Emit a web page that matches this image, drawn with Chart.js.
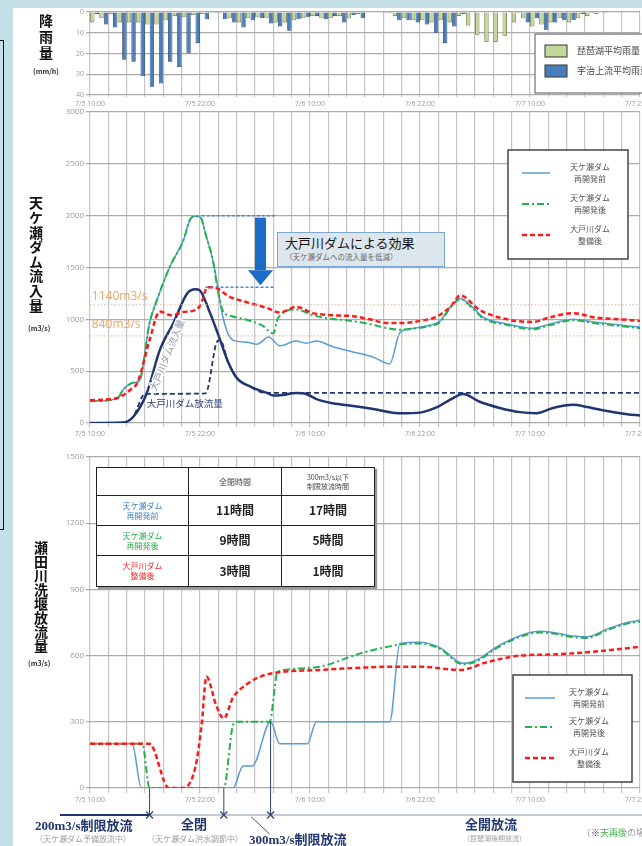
<!DOCTYPE html>
<html lang="ja">
<head>
<meta charset="utf-8">
<script src="https://cdn.jsdelivr.net/npm/chart.js@4.4.1/dist/chart.umd.min.js"></script>
<style>
  html,body{margin:0;padding:0;}
  body{width:642px;height:846px;position:relative;overflow:hidden;background:#c4e0e6;font-family:"Noto Sans CJK JP","Noto Sans",sans-serif;}
  #panel{position:absolute;left:13px;top:8px;width:629px;height:838px;background:#fff;}
  #bracket{position:absolute;left:-10px;top:40px;width:14px;height:490px;border:1.5px solid #111;box-sizing:border-box;}
  canvas{position:absolute;left:0;}
  .ov{position:absolute;z-index:5;white-space:nowrap;}
  .vt{position:absolute;z-index:5;writing-mode:vertical-rl;text-orientation:upright;font-weight:700;color:#111;line-height:1;}
  .unit{position:absolute;z-index:5;font-size:7px;font-weight:700;color:#333;}
  .big{font-family:"Liberation Serif","Noto Sans CJK JP",serif;font-weight:700;font-size:13px;color:#1f3670;line-height:13px;}
  .sub{font-size:8px;color:#a0a0a0;line-height:9px;}
  #effect{position:absolute;z-index:5;left:277px;top:232px;width:168px;height:35px;box-sizing:border-box;background:#dde6ed;border:1.5px solid #7aa7d4;padding:2px 0 0 7px;}
  #effect .t1{font-size:13px;color:#111;line-height:16px;}
  #effect .t2{font-size:7.5px;color:#666;line-height:11px;}
  #tbl{position:absolute;z-index:5;left:96px;top:467px;width:278px;height:119px;border-collapse:collapse;background:#fff;box-shadow:2px 2px 1px #999;table-layout:fixed;}
  #tbl td{border:1.5px solid #222;text-align:center;padding:0;line-height:1.2;}
  #tbl .h{font-size:8px;color:#444;}
  #tbl .s{font-size:7px;}
  #tbl .v{font-size:12px;font-weight:700;color:#222;}
  #tbl .l{font-size:8px;}
</style>
</head>
<body>
<div id="panel"></div>
<div id="bracket"></div>

<canvas id="rain" width="642" height="110" style="top:0"></canvas>
<canvas id="inflow" width="642" height="342" style="top:100px"></canvas>
<canvas id="outflow" width="642" height="401" style="top:445px"></canvas>

<div class="vt" style="left:39px;top:14px;font-size:14px;letter-spacing:2px;">降雨量</div>
<div class="unit" style="left:33px;top:66px;">(mm/h)</div>
<div class="vt" style="left:29px;top:196px;font-size:14px;letter-spacing:0.6px;">天ケ瀬ダム流入量</div>
<div class="unit" style="left:28px;top:323px;">(m3/s)</div>
<div class="vt" style="left:34px;top:541px;font-size:14px;letter-spacing:0px;">瀬田川洗堰放流量</div>
<div class="unit" style="left:28px;top:658px;">(m3/s)</div>

<div id="effect"><div class="t1">大戸川ダムによる効果</div><div class="t2">（天ケ瀬ダムへの流入量を低減）</div></div>

<table id="tbl">
  <colgroup><col style="width:92px"><col style="width:93px"><col style="width:93px"></colgroup>
  <tr style="height:28px"><td></td><td class="h">全閉時間</td><td class="h s">300m3/s以下<br>制限放流時間</td></tr>
  <tr style="height:30px"><td class="l" style="color:#3d85c6">天ケ瀬ダム<br>再開発前</td><td class="v">11時間</td><td class="v">17時間</td></tr>
  <tr style="height:30px"><td class="l" style="color:#2cb050">天ケ瀬ダム<br>再開発後</td><td class="v">9時間</td><td class="v">5時間</td></tr>
  <tr style="height:31px"><td class="l" style="color:#f03030">大戸川ダム<br>整備後</td><td class="v">3時間</td><td class="v">1時間</td></tr>
</table>

<div class="ov big" style="left:35px;top:819px;">200m3/s制限放流</div>
<div class="ov sub" style="left:35px;top:834px;">（天ケ瀬ダム予備放流中）</div>
<div class="ov big" style="left:181px;top:818px;">全閉</div>
<div class="ov sub" style="left:147px;top:834px;">（天ケ瀬ダム洪水調節中）</div>
<div class="ov big" style="left:249px;top:833px;">300m3/s制限放流</div>
<div class="ov big" style="left:465px;top:818px;">全開放流</div>
<div class="ov sub" style="left:463px;top:834px;font-size:7px;">（琵琶湖後期放流）</div>
<div class="ov" style="left:582px;top:828px;font-size:9px;color:#999;line-height:10px;">〔<span style="color:#333">※</span><span style="color:#3cb043">天再後</span>の場合</div>

<script>
// time axis: hours from 7/5 10:00
const timeLabels = ['7/5 10:00', '7/5 22:00', '7/6 10:00', '7/6 22:00', '7/7 10:00', '7/7 22:00'];

// hourly rainfall (mm/h), one value per hour from 7/5 10:00
const rainBiwa = [5, 3, 1, 5, 5, 5, 6, 6, 4, 2, 2.5, 1.5, 1, 0.5, 0.5, 3, 5, 3, 2.5, 3,
                  5, 5, 4, 3, 2, 3, 3, 2, 3, 1, 0.3, 0.3, 0.5, 2, 3, 4, 4, 5, 4, 5,
                  2, 6.5, 11, 14.5, 14.5, 11.5, 5, 3, 7, 6, 5, 3, 5, 3, 2, 1, 0.5, 0, 0, 0];
const rainUji  = [1, 6, 7.5, 23, 24, 31, 36, 34.5, 24, 26.5, 20, 15, 3.5, 0.5, 3.5, 5, 7.5, 4, 3, 5.5,
                  7, 9, 3.5, 2.5, 2, 3.5, 2, 5, 1.5, 3, 0.3, 0, 0.5, 4, 4, 5, 6, 10, 15, 7,
                  1, 0, 0, 0, 0, 0, 0.5, 5, 3, 8.5, 5, 4, 4, 1, 0.5, 0, 0, 0, 0, 0];

// 天ケ瀬ダム流入量 (m3/s): [hour, value]
const inflowBefore = [[0,210],[3,235],[3.6,320],[4.8,390],[5.4,410],[6.5,965],[7.3,1185],[8.7,1505],[10.2,1765],
  [10.9,1960],[11.5,1995],[12,1990],[12.7,1795],[13.4,1570],[14,1280],[14.5,1020],[15.6,800],[17.1,780],[18.2,760],
  [19.5,830],[20.7,745],[22.5,790],[23.6,770],[24.7,790],[26.5,735],[28.7,685],[30.9,635],[32.7,570],[33.8,870],
  [35.3,915],[36.7,935],[38.2,985],[39.3,1120],[40.4,1200],[41.8,1110],[42.9,1020],[45.5,955],[48.3,915],
  [50.2,955],[52.7,1000],[54.9,975],[57.8,945],[60,925]];
const inflowAfter = [[0,210],[3,235],[3.6,320],[4.8,390],[5.4,410],[6.5,965],[7.3,1185],[8.7,1505],[10.2,1765],
  [10.9,1960],[11.5,1995],[12,1990],[12.7,1795],[13.4,1570],[14,1250],[14.5,1080],[15.5,1030],[17.3,990],
  [18.8,940],[20,865],[20.5,1010],[22.5,1095],[24.3,1040],[25.8,1010],[28,990],[30.5,955],[32.4,915],[33.8,900],
  [35.3,910],[36.7,930],[38.2,975],[39.3,1110],[40.4,1195],[41.8,1100],[42.9,1010],[45.5,945],[48.3,905],
  [50.2,945],[52.7,990],[54.9,965],[57.8,935],[60,915]];
const inflowDaido = [[0,220],[2.9,240],[4.4,320],[5.2,395],[6.5,800],[7.6,1075],[8.9,1040],[10.2,1070],[11.7,1100],
  [12.2,1170],[12.8,1310],[13.4,1310],[15.3,1215],[17.1,1165],[19.3,1110],[20.7,1065],[22.5,1120],[24.3,1060],
  [26.5,1040],[28.7,1030],[30.5,1000],[32.4,965],[34.1,965],[36.3,990],[37.8,1025],[39.3,1120],[40.4,1230],
  [42.5,1090],[45.5,1000],[48.3,975],[50.2,1020],[52.7,1060],[54.9,1020],[57.8,1000],[60,985]];
// 大戸川ダム流入量 / 放流量
const daidoIn = [[0,0],[3.6,5],[4.7,58],[6.2,290],[7.6,700],[9.1,965],[10.6,1250],[11.5,1290],[11.9,1285],[13.1,1060],
  [14.2,800],[15.1,580],[16,435],[17.5,350],[19.3,290],[20,265],[21,270],[22.5,290],[23.6,280],[24.7,230],[26.5,190],
  [28.7,165],[30.9,135],[33,100],[34.6,95],[36.3,105],[37.8,150],[39.3,225],[40.7,280],[42.5,205],[44.7,145],
  [46.9,105],[48.7,95],[50.5,145],[52.7,175],[54.2,155],[56.4,115],[58.6,85],[60,72]];
const daidoOut = [[0,0],[3.6,5],[4.7,58],[6,280],[12.6,285],[13.9,790],[14.2,800],[15.1,580],[16,435],[17.5,350],
  [19,290],[60,290]];

// 瀬田川洗堰放流量 (m3/s)
const setaBefore = [[0,200],[4.6,200],[5.6,0],[15.6,0],[16.7,100],[17.7,100],[19.7,300],[20.7,200],[23.7,200],
  [24.7,300],[32.7,300],[33.8,655],[36,660],[38.2,635],[40.7,565],[42.2,580],[44.4,640],[46.9,690],[49.1,710],
  [50.5,705],[52.4,690],[54.2,685],[56.4,720],[58.6,750],[60,760]];
const setaAfter = [[0,200],[5.7,200],[6.5,0],[14.6,0],[15.6,285],[16,300],[19.6,300],[20.4,520],[20.7,530],
  [25.1,550],[29.5,610],[33.8,650],[36,655],[38.2,630],[40.7,560],[42.2,575],[44.4,635],[46.9,685],[49.1,705],
  [50.5,700],[52.4,685],[54.2,680],[56.4,715],[58.6,745],[60,755]];
const setaDaido = [[0,200],[6.5,200],[8.6,0],[10.1,0],[11.5,95],[12.2,295],[12.7,505],[13.8,370],[14.6,315],
  [15.6,410],[17.1,470],[18.9,510],[20.7,525],[25.1,535],[29.5,545],[33.8,550],[36,550],[40.4,535],[43.3,570],
  [46.9,600],[50.5,605],[54.2,615],[57.8,630],[60,640]];

// annotations
const refLevels = [1140, 840];
const effectTop = 2000, effectBottom = 1310, effectFrom = [12.2, 12.6], effectTo = 20.2, arrowAt = 18.6;
const gateMarks = [[6.5, 0], [14.6, 0], [19.7, 300]];   // 200m3/s → 全閉 → 300m3/s → 全開

Chart.defaults.font.family = "'Open Sans','Noto Sans CJK JP',sans-serif";
const JP = "'Noto Sans CJK JP'";

function xAxis(h, tick){
  return { type:'linear', min:0, max:60, offset:false,
    afterFit(s){ s.height = h; s.paddingLeft = 0; s.paddingRight = 0; },
    ticks:{ stepSize:2, autoSkip:false, maxRotation:0, minRotation:0, padding:3, color:'#9a9a9a', font:{size:7},
      callback: v => v % 12 === 0 ? timeLabels[v / 12] : '' },
    grid:{ color:'#c4c4c4', lineWidth:1.2, tickLength:tick, offset:false }, border:{display:false} };
}
function yAxis(max, step, rev, fs){
  return { min:0, max, reverse:!!rev,
    afterFit(s){ s.width = 90; s.paddingTop = 0; s.paddingBottom = 0; },
    ticks:{ stepSize:step, padding:2, color:'#9a9a9a', font:{size:fs}, callback: v => String(v) },
    grid:{ color:'#ababab', lineWidth:1.2, tickLength:4 }, border:{display:false} };
}
function line(label, pts, color, width, dash){
  return { type:'line', label, data: pts.map(p => ({x:p[0], y:p[1]})), borderColor:color, borderWidth:width,
    borderDash: dash || [], pointRadius:0, fill:false, cubicInterpolationMode:'monotone', borderCapStyle:'butt' };
}
const baseOpts = { responsive:false, animation:false, devicePixelRatio:1,
  layout:{ padding:{ top:12, right:2, left:0, bottom:0 } },
  plugins:{ legend:{display:false}, tooltip:{enabled:false} } };

const C_BEFORE = '#5b9bd5', C_AFTER = '#22b14c', C_DAIDO = '#ff1a1a', C_NAVY = '#1f3670';
const D_AFTER = [7,3,2,3], D_DAIDO = [5,3];

function drawLineLegend(ctx, L, oy){
  ctx.save();
  ctx.fillStyle = '#fff'; ctx.strokeStyle = '#444'; ctx.lineWidth = 1.5;
  ctx.fillRect(L.x, L.y - oy, L.w, L.h); ctx.strokeRect(L.x, L.y - oy, L.w, L.h);
  L.rows.forEach(r => {
    ctx.strokeStyle = r.color; ctx.lineWidth = r.width; ctx.setLineDash(r.dash);
    ctx.beginPath(); ctx.moveTo(L.x1, r.y - oy); ctx.lineTo(L.x2, r.y - oy); ctx.stroke();
    ctx.setLineDash([]);
    ctx.fillStyle = '#555'; ctx.font = '8px ' + JP; ctx.textAlign = 'center'; ctx.textBaseline = 'middle';
    ctx.fillText(r.text[0], L.tx, r.y - oy - 6);
    ctx.fillText(r.text[1], L.tx, r.y - oy + 6);
  });
  ctx.restore();
}
const legendRows = (ys) => [
  { y:ys[0], color:C_BEFORE, width:1.5, dash:[], text:['天ケ瀬ダム','再開発前'] },
  { y:ys[1], color:C_AFTER, width:2, dash:D_AFTER, text:['天ケ瀬ダム','再開発後'] },
  { y:ys[2], color:C_DAIDO, width:2.5, dash:D_DAIDO, text:['大戸川ダム','整備後'] } ];

// ---- 降雨量 ----
const rainLegend = { id:'rainLegend', afterDraw(c){
  const ctx = c.ctx; ctx.save();
  ctx.fillStyle = '#fff'; ctx.strokeStyle = '#555'; ctx.lineWidth = 1;
  ctx.fillRect(535, 34, 130, 59); ctx.strokeRect(535, 34, 130, 59);
  [['#c3d69b','琵琶湖平均雨量',45],['#4a7ebb','宇治上流平均雨量',65]].forEach(([col, t, y]) => {
    ctx.fillStyle = col; ctx.fillRect(545, y, 22, 12); ctx.strokeStyle = '#333'; ctx.strokeRect(545, y, 22, 12);
    ctx.fillStyle = '#444'; ctx.font = '9px ' + JP; ctx.textBaseline = 'middle'; ctx.fillText(t, 577, y + 6);
  });
  ctx.restore();
}};
new Chart(document.getElementById('rain'), {
  type:'bar',
  data:{ datasets:[
    { label:'琵琶湖平均雨量', data: rainBiwa.map((v, i) => ({x:i + 0.5, y:v})), backgroundColor:'#c3d69b',
      borderColor:'#5a6433', borderWidth:0.8, barPercentage:0.95, categoryPercentage:1 },
    { label:'宇治上流平均雨量', data: rainUji.map((v, i) => ({x:i + 0.5, y:v})), backgroundColor:'#4a7ebb',
      borderColor:'#1d3b66', borderWidth:0.8, barPercentage:0.95, categoryPercentage:1 } ]},
  options:{ ...baseOpts, scales:{ x: xAxis(15, 2), y: yAxis(40, 10, true, 7) } },
  plugins:[rainLegend]
});

// ---- 天ケ瀬ダム流入量 ----
const inflowDeco = { id:'inflowDeco', afterDraw(c){
  const { ctx, chartArea:a, scales:{x, y} } = c, oy = 100;
  ctx.save();
  ctx.setLineDash([1.5,2]); ctx.strokeStyle = '#d9b39a'; ctx.lineWidth = 1;
  refLevels.forEach(v => { const py = y.getPixelForValue(v); ctx.beginPath(); ctx.moveTo(a.left, py); ctx.lineTo(a.right, py); ctx.stroke(); });
  ctx.setLineDash([]);
  ctx.fillStyle = '#f2a35e'; ctx.font = "12px 'Open Sans'"; ctx.textAlign = 'left'; ctx.textBaseline = 'alphabetic';
  ctx.fillText('1140m3/s', x.getPixelForValue(0.2), y.getPixelForValue(refLevels[0]) - 5);
  ctx.fillText('840m3/s', x.getPixelForValue(0.2), y.getPixelForValue(refLevels[1]) - 8);
  // 効果の範囲
  ctx.setLineDash([3,2]); ctx.strokeStyle = '#3f8ad8'; ctx.lineWidth = 1.5;
  [[effectTop, effectFrom[0]], [effectBottom, effectFrom[1]]].forEach(([v, h]) => {
    const py = y.getPixelForValue(v); ctx.beginPath();
    ctx.moveTo(x.getPixelForValue(h), py); ctx.lineTo(x.getPixelForValue(effectTo), py); ctx.stroke();
  });
  ctx.setLineDash([]);
  const ax = x.getPixelForValue(arrowAt), y1 = y.getPixelForValue(effectTop) + 2, y2 = y.getPixelForValue(effectBottom) - 2;
  ctx.fillStyle = '#1a6cc6';
  ctx.fillRect(ax - 5.5, y1, 11, y2 - 15 - y1);
  ctx.beginPath(); ctx.moveTo(ax - 12.5, y2 - 15); ctx.lineTo(ax + 12.5, y2 - 15); ctx.lineTo(ax, y2); ctx.closePath(); ctx.fill();
  // 線のラベル
  ctx.save();
  ctx.translate(x.getPixelForValue(8.4), y.getPixelForValue(656)); ctx.rotate(-68 * Math.PI / 180);
  ctx.font = '9.5px ' + JP; ctx.textAlign = 'center'; ctx.textBaseline = 'middle';
  ctx.lineWidth = 3; ctx.strokeStyle = 'rgba(255,255,255,0.9)'; ctx.strokeText('大戸川ダム流入量', 0, 0);
  ctx.fillStyle = '#8c97a8'; ctx.fillText('大戸川ダム流入量', 0, 0);
  ctx.restore();
  ctx.font = '9.5px ' + JP; ctx.fillStyle = '#2c4276'; ctx.textAlign = 'left'; ctx.textBaseline = 'alphabetic';
  ctx.fillText('大戸川ダム放流量', x.getPixelForValue(6.2), y.getPixelForValue(150));
  ctx.restore();
  drawLineLegend(ctx, { x:508, y:150, w:120, h:109, x1:522, x2:550, tx:590, rows: legendRows([173, 204, 235]) }, oy);
}};
new Chart(document.getElementById('inflow'), {
  type:'line',
  data:{ datasets:[
    line('大戸川ダム整備後', inflowDaido, C_DAIDO, 2.5, D_DAIDO),
    line('天ケ瀬ダム再開発後', inflowAfter, C_AFTER, 2, D_AFTER),
    line('天ケ瀬ダム再開発前', inflowBefore, C_BEFORE, 1.5),
    line('大戸川ダム流入量', daidoIn, C_NAVY, 2.5),
    line('大戸川ダム放流量', daidoOut, C_NAVY, 1.8, [5,3]) ]},
  options:{ ...baseOpts, scales:{ x: xAxis(19, 4), y: yAxis(3000, 500, false, 8) } },
  plugins:[inflowDeco]
});

// ---- 瀬田川洗堰放流量 ----
const outflowDeco = { id:'outflowDeco', afterDraw(c){
  const { ctx, scales:{x, y} } = c, oy = 445, my = 815 - oy;
  ctx.save();
  ctx.strokeStyle = C_NAVY; ctx.lineWidth = 2;
  ctx.beginPath(); ctx.moveTo(60, my); ctx.lineTo(x.getPixelForValue(gateMarks[0][0]), my); ctx.stroke();
  ctx.strokeStyle = '#8791a8'; ctx.lineWidth = 1;
  ctx.beginPath(); ctx.moveTo(x.getPixelForValue(gateMarks[0][0]), my); ctx.lineTo(642, my); ctx.stroke();
  gateMarks.forEach(([h, v]) => {
    const px = x.getPixelForValue(h);
    ctx.strokeStyle = '#2d4372'; ctx.lineWidth = 1;
    ctx.beginPath(); ctx.moveTo(px, y.getPixelForValue(v)); ctx.lineTo(px, my); ctx.stroke();
    ctx.lineWidth = 1.2; ctx.beginPath();
    ctx.moveTo(px - 3.5, my - 3.5); ctx.lineTo(px + 3.5, my + 3.5);
    ctx.moveTo(px - 3.5, my + 3.5); ctx.lineTo(px + 3.5, my - 3.5); ctx.stroke();
  });
  ctx.strokeStyle = '#555'; ctx.lineWidth = 1;
  ctx.beginPath(); ctx.moveTo(x.getPixelForValue(17.6), my + 2); ctx.lineTo(x.getPixelForValue(19.6), my + 19); ctx.stroke();
  ctx.restore();
  drawLineLegend(ctx, { x:513, y:675, w:119, h:107, x1:525, x2:555, tx:589, rows: legendRows([698, 727, 758]) }, oy);
}};
new Chart(document.getElementById('outflow'), {
  type:'line',
  data:{ datasets:[
    line('大戸川ダム整備後', setaDaido, C_DAIDO, 2.5, D_DAIDO),
    line('天ケ瀬ダム再開発後', setaAfter, C_AFTER, 2, D_AFTER),
    line('天ケ瀬ダム再開発前', setaBefore, C_BEFORE, 1.5) ]},
  options:{ ...baseOpts, scales:{ x: xAxis(58, 5), y: yAxis(1500, 300, false, 8) } },
  plugins:[outflowDeco]
});
</script>
</body>
</html>
